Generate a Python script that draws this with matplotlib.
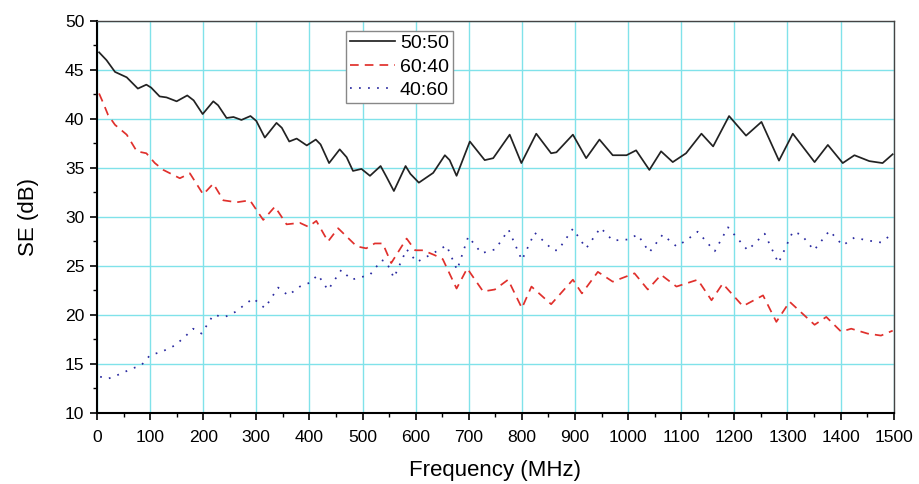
# SE vs frequency for three blend ratios

import matplotlib.pyplot as plt
import numpy as np

plt.rcParams['font.family'] = ['Liberation Sans', 'DejaVu Sans']

# 50:50
f_5050 = [4, 18, 34, 56, 77, 93, 102, 118, 131, 150, 170, 182, 199, 219, 228, 244, 257, 272,
          289, 300, 316, 338, 348, 362, 376, 395, 412, 421, 437, 457, 470, 482, 498, 514, 534,
          545, 559, 581, 590, 606, 633, 655, 664, 677, 702, 730, 746, 777, 799, 827, 855, 865,
          896, 921, 946, 971, 997, 1015, 1040, 1062, 1084, 1109, 1138, 1160, 1190, 1222, 1251,
          1284, 1310, 1351, 1376, 1404, 1426, 1454, 1479, 1498]
se_5050 = [46.8, 46.0, 44.8, 44.25, 43.1, 43.5, 43.2, 42.3, 42.2, 41.8, 42.4, 41.9, 40.5, 41.8,
           41.4, 40.1, 40.2, 39.9, 40.3, 39.8, 38.1, 39.6, 39.1, 37.7, 38.0, 37.3, 37.9, 37.4,
           35.5, 36.9, 36.1, 34.7, 34.9, 34.2, 35.2, 34.1, 32.65, 35.2, 34.4, 33.5, 34.5, 36.3,
           35.8, 34.2, 37.7, 35.8, 36.0, 38.4, 35.5, 38.5, 36.5, 36.6, 38.4, 36.0, 37.9, 36.3,
           36.3, 36.8, 34.8, 36.7, 35.6, 36.5, 38.5, 37.2, 40.3, 38.3, 39.7, 35.75, 38.5, 35.6,
           37.35, 35.5, 36.3, 35.7, 35.5, 36.4]

# 60:40
f_6040 = [4, 12, 21, 34, 56, 75, 93, 109, 125, 156, 175, 200, 219, 238, 263, 288, 313, 335,
          357, 382, 398, 413, 435, 454, 489, 507, 523, 538, 554, 583, 599, 614, 636, 651, 677,
          697, 727, 749, 774, 800, 818, 855, 896, 913, 943, 971, 1012, 1037, 1062, 1091, 1131,
          1157, 1178, 1216, 1254, 1279, 1304, 1351, 1373, 1401, 1420, 1451, 1476, 1498]
se_6040 = [42.6, 41.6, 40.4, 39.4, 38.4, 36.7, 36.5, 35.5, 34.8, 33.95, 34.45, 32.3, 33.4, 31.7,
           31.5, 31.7, 29.7, 31.05, 29.25, 29.4, 29.0, 29.6, 27.5, 28.85, 27.0, 26.8, 27.3, 27.3,
           25.3, 27.8, 26.6, 26.6, 26.1, 25.7, 22.7, 24.75, 22.4, 22.6, 23.6, 20.7, 22.9, 21.1,
           23.6, 22.2, 24.4, 23.4, 24.25, 22.6, 24.1, 22.9, 23.6, 21.5, 23.2, 20.9, 22.0, 19.3,
           21.35, 19.0, 19.8, 18.3, 18.6, 18.1, 17.9, 18.4]

# 40:60
f_4060 = [6, 21, 40, 65, 84, 100, 122, 147, 166, 181, 197, 219, 241, 260, 294, 316, 341, 360,
          382, 401, 416, 435, 460, 479, 514, 536, 545, 559, 583, 602, 633, 658, 678, 699, 724,
          750, 775, 800, 824, 859, 868, 896, 921, 948, 971, 999, 1018, 1040, 1065, 1091, 1109,
          1131, 1163, 1188, 1225, 1257, 1283, 1310, 1326, 1350, 1379, 1404, 1426, 1451, 1476, 1498]
se_4060 = [13.7, 13.5, 13.9, 14.5, 14.9, 15.9, 16.25, 16.9, 17.8, 18.6, 18.1, 20.0, 19.8, 20.3,
           21.7, 20.7, 22.8, 22.0, 22.9, 23.3, 24.1, 22.55, 24.6, 23.6, 24.1, 25.6, 25.4, 23.8,
           26.7, 25.4, 26.3, 27.1, 24.6, 28.0, 26.3, 26.7, 28.7, 25.6, 28.4, 26.6, 26.6, 28.8,
           26.8, 28.9, 27.6, 27.7, 28.2, 26.4, 28.2, 27.0, 27.6, 28.5, 26.5, 28.95, 26.6, 28.3,
           25.3, 28.5, 28.2, 26.6, 28.6, 27.1, 27.9, 27.6, 27.4, 28.3]

fig = plt.figure(figsize=(9.19, 4.84), dpi=100)
ax = fig.add_axes([0.1055, 0.1467, 0.867, 0.81])

ax.plot(f_5050, se_5050, color='#222222', lw=1.25, label='50:50')
ax.plot(f_6040, se_6040, color='#e0302c', lw=1.25, dashes=(5, 3.5), label='60:40')
ax.plot(f_4060, se_4060, color='#2a2aa0', lw=1.25, dashes=(1, 4.2), label='40:60')

ax.set_xlim(0, 1500)
ax.set_ylim(10, 50)
ax.set_xticks(np.arange(0, 1501, 100))
ax.set_xticks(np.arange(0, 1501, 50), minor=True)
ax.set_yticks(np.arange(10, 51, 5))
ax.set_yticks(np.arange(10, 51, 2.5), minor=True)
ax.tick_params(which='major', direction='out', length=5, width=1.2, labelsize=12.6, pad=7)
ax.tick_params(which='minor', direction='out', length=3, width=1.0)
ax.tick_params(axis='y', pad=4)

ax.grid(True, which='major', color='#80e2ea', lw=1.0)
ax.set_axisbelow(True)

for side in ['left', 'bottom']:
    ax.spines[side].set_linewidth(1.5)
for side in ['top', 'right']:
    ax.spines[side].set_linewidth(1.0)
    ax.spines[side].set_color('#444444')

ax.set_xlabel('Frequency (MHz)', fontsize=16, labelpad=11)
ax.set_ylabel('SE (dB)', fontsize=16, labelpad=19)

leg = ax.legend(loc='upper left', bbox_to_anchor=(0.313, 0.975), borderaxespad=0,
                fontsize=14, handlelength=2.3, handletextpad=0.25, borderpad=0.2,
                labelspacing=0.3, fancybox=False, framealpha=1, edgecolor='#888888')
leg.get_frame().set_linewidth(1.0)

plt.savefig('out.png', dpi=100)
